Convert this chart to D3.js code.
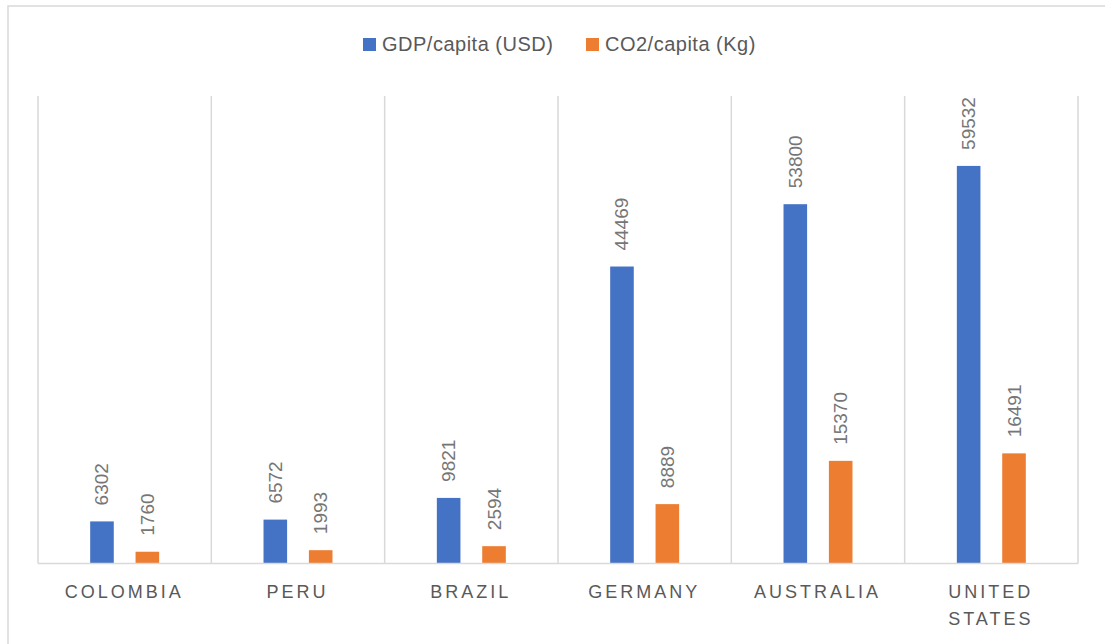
<!DOCTYPE html>
<html>
<head>
<meta charset="utf-8">
<script src="https://cdn.jsdelivr.net/npm/d3@7"></script>
<style>
  html, body { margin: 0; padding: 0; background: #fff; }
  svg { display: block; }
  text { font-family: "Liberation Sans", Arial, sans-serif; }
</style>
</head>
<body>
<svg id="chart" width="1105" height="644"></svg>
<script>
// Per-capita GDP and CO2 emissions by country
const countries = ["COLOMBIA", "PERU", "BRAZIL", "GERMANY", "AUSTRALIA", "UNITED STATES"];
const seriesNames = ["GDP/capita (USD)", "CO2/capita (Kg)"];
const gdpPerCapita = [6302, 6572, 9821, 44469, 53800, 59532];
const co2PerCapita = [1760, 1993, 2594, 8889, 15370, 16491];
const seriesColors = ["#4472C4", "#ED7D31"];
const yMax = 70000;

const rows = countries.map((c, i) => ({
  country: c,
  values: [
    { series: seriesNames[0], value: gdpPerCapita[i] },
    { series: seriesNames[1], value: co2PerCapita[i] }
  ]
}));

const svg = d3.select("#chart");
const W = 1105, H = 644;
const plot = { left: 38, right: 1078, top: 96, bottom: 563.5 };
const gridColor = "#d9d9d9";
const textColor = "#595959";
const labelColor = "#767676";

// chart frame
svg.append("rect")
  .attr("x", 8).attr("y", 6)
  .attr("width", W + 20).attr("height", H + 20)
  .attr("fill", "#fff")
  .attr("stroke", gridColor).attr("stroke-width", 1.5);

const x0 = d3.scaleBand().domain(countries).range([plot.left, plot.right]).padding(0);
const x1 = d3.scaleBand().domain(seriesNames).range([0, x0.bandwidth()])
  .paddingInner(0.48).paddingOuter(1.15);
const y = d3.scaleLinear().domain([0, yMax]).range([plot.bottom, plot.top]);
const color = d3.scaleOrdinal().domain(seriesNames).range(seriesColors);

// vertical separators between categories
const bounds = countries.map(c => x0(c)).concat([plot.right]);
svg.append("g").selectAll("line").data(bounds).join("line")
  .attr("x1", d => d).attr("x2", d => d)
  .attr("y1", plot.top).attr("y2", plot.bottom)
  .attr("stroke", gridColor).attr("stroke-width", 1.5);

// bars
const groups = svg.append("g").selectAll("g").data(rows).join("g")
  .attr("transform", d => `translate(${x0(d.country)},0)`);

groups.selectAll("rect").data(d => d.values).join("rect")
  .attr("x", d => x1(d.series))
  .attr("width", x1.bandwidth())
  .attr("y", d => y(d.value))
  .attr("height", d => y(0) - y(d.value))
  .attr("fill", d => color(d.series));

// rotated value labels
groups.selectAll("text").data(d => d.values).join("text")
  .attr("transform", d => `translate(${x1(d.series) + x1.bandwidth() / 2},${y(d.value) - 16}) rotate(-90)`)
  .attr("text-anchor", "start")
  .attr("dominant-baseline", "central")
  .attr("font-size", 19)
  .attr("fill", labelColor)
  .text(d => d.value);

// category axis
const xAxis = d3.axisBottom(x0).tickSize(0).tickPadding(0);
const axisG = svg.append("g").attr("transform", `translate(0,${plot.bottom})`).call(xAxis);
axisG.select(".domain").remove();
axisG.append("line")
  .attr("x1", plot.left).attr("x2", plot.right)
  .attr("stroke", gridColor).attr("stroke-width", 1.5);
axisG.selectAll(".tick text").each(function(d) {
  const t = d3.select(this);
  const words = d.split(" ");
  t.text(null)
    .attr("y", 0)
    .attr("dy", null)
    .attr("font-size", 18)
    .attr("fill", textColor)
    .style("letter-spacing", "3px")
    .attr("font-family", "'Liberation Sans', Arial, sans-serif");
  words.forEach((w, i) => {
    t.append("tspan").attr("x", -0.5).attr("y", 34.5 + i * 26.7).text(w);
  });
});

// legend
const legendItems = [
  { name: seriesNames[0], x: 363 },
  { name: seriesNames[1], x: 586 }
];
const lg = svg.append("g").selectAll("g").data(legendItems).join("g")
  .attr("transform", d => `translate(${d.x},38)`);
lg.append("rect").attr("width", 13).attr("height", 13)
  .attr("fill", d => color(d.name));
lg.append("text").attr("x", 19).attr("y", 13)
  .attr("font-size", 20).attr("fill", textColor)
  .style("letter-spacing", "0.5px")
  .text(d => d.name);
</script>
</body>
</html>
